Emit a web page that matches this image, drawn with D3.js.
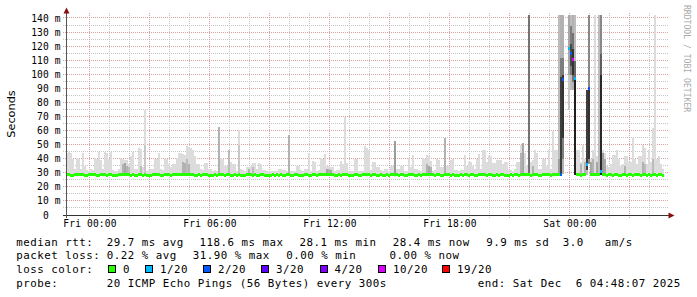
<!DOCTYPE html>
<html><head><meta charset="utf-8">
<script src="https://cdn.jsdelivr.net/npm/d3@7"></script>
<style>html,body{margin:0;padding:0;background:#fff;}svg{display:block}text{white-space:pre}</style>
</head><body><svg id="c" width="697" height="297"></svg>
<script>
// ---------------- DATA ----------------
const startTime = new Date(2025, 11, 4, 22, 48, 7);
const endTime   = new Date(2025, 11, 6, 4, 48, 7);
const stepMinutes = 6;

// median rtt per step (ms), null = no data
const medianRtt = [
28.6,28.6,28.4,28.4,28.9,28.7,28.5,28.5,28.6,28.4,
28.3,28.5,28.9,29.1,28.6,28.4,28.4,28.5,28.7,28.5,
28.4,28.6,28.6,28.3,28.2,28.4,28.5,28.8,28.6,28.9,
28.7,28.5,28.4,28.6,28.3,28.3,28.5,28.7,28.4,28.6,
28.2,28.3,28.4,28.8,28.6,28.5,28.5,28.3,28.4,28.7,
28.9,28.6,28.4,28.5,28.7,28.6,28.8,29.0,28.7,28.9,
28.8,28.6,28.5,28.7,28.4,28.3,28.6,28.4,28.5,28.8,
28.5,28.3,28.2,28.4,28.6,28.3,28.7,28.9,28.5,28.4,
28.6,28.8,28.4,28.3,28.5,28.4,28.7,28.3,28.2,28.4,
28.5,28.9,28.6,28.4,28.5,28.3,28.4,28.6,28.5,28.3,
28.2,28.4,28.3,28.5,28.4,28.6,28.4,28.5,28.3,28.4,
28.6,28.8,28.4,28.3,28.5,28.7,28.4,28.3,28.2,28.5,
28.6,28.4,28.3,28.5,28.7,28.4,28.5,28.8,28.6,28.5,
28.9,28.7,28.5,28.6,28.4,28.3,28.5,28.4,28.6,28.8,
28.5,28.4,28.3,28.2,28.5,28.6,28.4,28.3,28.5,28.7,
28.6,28.5,28.4,28.6,28.5,28.3,28.4,28.5,28.3,28.4,
28.6,28.4,28.5,28.7,28.9,28.5,28.4,28.6,28.5,28.3,
28.4,28.6,28.5,28.7,28.4,28.3,28.5,28.4,28.6,28.8,
28.7,28.9,28.6,28.5,28.4,28.6,28.5,28.3,28.4,28.9,
28.6,28.5,28.4,28.6,28.3,28.2,28.4,28.5,28.3,28.6,
28.5,28.4,28.6,28.5,28.3,28.4,28.6,28.5,28.7,28.6,
28.4,28.5,28.6,28.4,28.3,28.5,28.4,28.6,28.5,28.4,
28.3,28.4,28.5,28.4,28.6,28.5,28.4,28.8,28.9,28.6,
28.5,28.7,28.4,28.5,28.6,28.5,28.4,28.3,28.5,28.6,
28.5,28.6,28.4,28.7,28.6,28.5,28.6,28.8,96.3,null,
null,118.8,115.3,110.5,97.2,28.6,28.5,28.4,28.6,28.5,
35.8,89.8,28.6,28.5,28.7,28.5,28.6,30.7,28.7,28.5,
28.4,28.6,28.5,28.4,28.6,28.5,28.3,28.4,28.6,28.5,
28.4,28.5,28.6,28.4,28.5,28.7,28.5,28.4,28.6,28.5,
28.4,28.5,28.3,28.6,28.5,28.4,28.5,28.6,28.4,null];

// highest ping per step (ms) — outermost (lightest) smoke
const maxRtt = [
44,44.6,44,40,33,40.6,40,33,44,35,
32,31,33,32,40.6,40,45,38.9,33,45,
44,40,45,32,31,31,33,40.6,40,39,
39,36,42,45,33,33,47.8,47,34,75,
31,32,33,33,40,40,44,33,32,40.6,
40,36,34,36,36,40.6,44,44,43.6,43,
49,48.5,47.8,46,42,36,36,33,32,37,
37,33,33,31,32,31,63,40.6,40,35,
35,46.5,38,36,36,31,60.8,33,32,31,
34,34,35,37,37,33,37,36,32,32,
31,31,31,31,31,31,33,33,32,32,
31,57,31,31,31,35,35,32,31,33,
33,44,31,38.7,38,31,32,40.6,40,43.8,
35,35,34,34,31,32,32,38.8,36,70,
37,31,31,31,40.2,40,31,31,31,49,
48,46,32,38,38,34,34,32,31,33,
33,31,35,35,52.5,33,33,35,35,31,
31,40.6,34,43,33,33,32,31,40.6,40,
43,42,38.8,31,32,40,39,34,34,55,
35,35,39,40,32,32,31,32,32,43,
35,38,38,35,33,40,43.8,33,46.5,46.5,
38,41.8,41.8,37,37,39,39,39.4,36,38,
38,32,32,31,33,38,38,50,51.3,44,
35,143,38,39,46.5,44,33,33,40,40,
35,46,33,60,46,46.5,143,null,null,null,
null,null,null,null,null,46,46,38,50,40,
null,null,40,46.5,143,42,143,null,46,44,
35,34,36,43,43,46.5,40,35,36,42,
42,38,38,55,40,36,42,42,50,48,
36,46.5,38,62,143,40,42,36,33,null];

// denser smoke bands: [step, low ms, high ms, pings in band]
const denseSmoke = [
[28,28.5,36,5],[29,28.5,37,6],[30,28.5,35,5],[31,28.5,34,4],[37,28.5,35,4],[39,28.5,50,3],
[58,28.5,38,5],[59,28.5,37,5],[60,28.5,40,4],[61,28.5,36,5],[76,28.5,63,5],[81,28.5,46,4],
[86,28.5,50,3],[91,28.5,33,5],[93,28.5,34,4],[111,28.5,57,5],[130,28.5,33,6],[131,28.5,33,5],
[132,28.5,32,6],[164,28.5,52.5,7],[180,28.5,36,5],[181,28.5,35,6],[182,28.5,34,5],[189,28.5,55,5],
[227,28.5,44,5],[228,28.5,51.3,6],[231,28.5,143,11],[233,28.5,35,5],
[246,28.5,143,4],[246,28.5,40,7],
[247,28.5,143,5],[247,28.5,112,10],[247,28.5,98,16],
[248,29,143,5],[248,40,112,10],[248,55,100,17],
[251,75,143,3],[251,100,143,6],
[252,89,143,4],[252,100,135,10],[252,106,122,15],
[253,89,143,5],[253,95,130,11],[253,100,118,17],
[254,28.5,143,4],[254,28.5,110,12],[254,28.5,97,19],
[257,28.5,36,5],[259,28.5,38,5],
[260,28.5,50,4],[260,32,89,16],
[261,36,143,9],[261,40,89,17],
[262,28.5,38,6],[263,28.5,40,5],[265,28.5,38,6],
[266,28.5,143,4],
[267,28.5,143,9],[267,28.5,115,13],[267,28.5,100,18],
[268,28.5,44,7],[269,28.5,40,6],[279,28.5,35,5],[288,28.5,38,5],[289,28.5,36,4],[293,28.5,40,4]];

// lost pings per step (out of 20)
const lossEvents = [[247,2],[248,2],[251,1],[252,2],[253,10],[254,1],[260,1],[261,2],[267,1]];

const lossLegend = ["0","1/20","2/20","3/20","4/20","10/20","19/20"];
const lossThresholds = [0,1,2,3,4,10,19];
const lossColors = ["#26ff00","#00b8ff","#0059ff","#5e00ff","#7e00ff","#dd00ff","#ff0000"];

const yTickValues = [0,10,20,30,40,50,60,70,80,90,100,110,120,130,140];
const yMinorValues = [5,15,25,35,45,55,65,75,85,95,105,115,125,135];

const rttStats = ["median rtt:","29.7 ms avg","118.6 ms max","28.1 ms min","28.4 ms now","9.9 ms sd","3.0   am/s"];
const lossStats = ["packet loss:","0.22 % avg","31.90 % max","0.00 % min","0.00 % now"];
const probeInfo = ["probe:","20 ICMP Echo Pings (56 Bytes) every 300s","end: Sat Dec  6 04:48:07 2025"];
const watermark = "RRDTOOL / TOBI OETIKER";

// ---------------- DRAW ----------------
const svg = d3.select("#c");
const x = d3.scaleTime().domain([startTime, endTime]).range([66, 666]);
const y = d3.scaleLinear().domain([0, 143.2]).range([215, 14]);
const stepT = i => new Date(startTime.getTime() + i * stepMinutes * 60000);
const shade = d3.scaleLinear().domain([1, 20]).range(["#dcdcdc", "#141414"]);
const lossColor = n => { let c = lossColors[0]; lossThresholds.forEach((t, k) => { if (n >= t) c = lossColors[k]; }); return c; };
const lossMap = new Map(lossEvents);

const mono = "DejaVu Sans Mono";

// grid
const grid = svg.append("g").attr("shape-rendering", "crispEdges");
const hy = v => Math.round(y(v)) - 0.5;
const vx = t => Math.round(x(t)) - 0.5;
yMinorValues.forEach(v => grid.append("line").attr("x1", 63).attr("x2", 668).attr("y1", hy(v)).attr("y2", hy(v))
  .attr("stroke", "#c6c6c6").attr("stroke-dasharray", "1,1"));
const hours = d3.timeHour.range(new Date(2025, 11, 5, 0, 0), endTime);
hours.filter(t => t.getHours() % 3 !== 0).forEach(t => grid.append("line").attr("x1", vx(t)).attr("x2", vx(t)).attr("y1", 13).attr("y2", 218)
  .attr("stroke", "#c6c6c6").attr("stroke-dasharray", "1,1"));
yTickValues.filter(v => v > 0).forEach(v => grid.append("line").attr("x1", 63).attr("x2", 668).attr("y1", hy(v)).attr("y2", hy(v))
  .attr("stroke", "#dba1a1").attr("stroke-dasharray", "1,1"));
hours.filter(t => t.getHours() % 3 === 0).forEach(t => grid.append("line").attr("x1", vx(t)).attr("x2", vx(t)).attr("y1", 13).attr("y2", 218)
  .attr("stroke", "#dba1a1").attr("stroke-dasharray", "1,1"));

// smoke + median
svg.append("clipPath").attr("id", "plot").append("rect").attr("x", 66).attr("y", 15).attr("width", 600).attr("height", 200);
const plot = svg.append("g").attr("clip-path", "url(#plot)").attr("shape-rendering", "crispEdges");
const xs = i => Math.round(x(stepT(i)));
maxRtt.forEach((m, i) => {
  if (m == null || medianRtt[i] == null) return;
  plot.append("rect").attr("x", xs(i)).attr("width", xs(i + 1) - xs(i))
    .attr("y", y(m)).attr("height", Math.max(0, y(medianRtt[i]) - y(m))).attr("fill", shade(1));
});
denseSmoke.slice().sort((a, b) => a[3] - b[3]).forEach(([i, lo, hi, n]) => {
  plot.append("rect").attr("x", xs(i)).attr("width", xs(i + 1) - xs(i))
    .attr("y", y(hi)).attr("height", y(lo) - y(hi)).attr("fill", shade(n));
});
medianRtt.forEach((m, i) => {
  if (m == null) return;
  plot.append("rect").attr("x", xs(i)).attr("width", xs(i + 1) - xs(i))
    .attr("y", y(m) - 1.5).attr("height", 3).attr("fill", lossColor(lossMap.get(i) || 0));
});

// axes
const ax = svg.append("g").attr("shape-rendering", "crispEdges");
ax.append("line").attr("x1", 63).attr("x2", 669).attr("y1", 215.5).attr("y2", 215.5).attr("stroke", "#333");
ax.append("line").attr("x1", 66.5).attr("x2", 66.5).attr("y1", 12).attr("y2", 218).attr("stroke", "#555");
svg.append("path").attr("d", "M63.5,13.5L69.5,13.5L66.5,7.5Z").attr("fill", "#8a1010");
svg.append("path").attr("d", "M668.5,212.5L668.5,218.5L674.5,215.5Z").attr("fill", "#8a1010");

// y labels
svg.append("g").selectAll("text").data(yTickValues).join("text")
  .attr("x", 60.8).attr("y", v => y(v) + 3.5).attr("text-anchor", "end")
  .attr("font-family", mono).attr("font-size", "9.6px").attr("letter-spacing", "0.15px").attr("fill", "#000")
  .text(v => v === 0 ? "0  " : v + " m");

// x labels
svg.append("g").selectAll("text").data(d3.timeHour.every(6).range(startTime, endTime)).join("text")
  .attr("x", t => x(t)).attr("y", 227.4).attr("text-anchor", "middle")
  .attr("font-family", mono).attr("font-size", "9.6px").attr("letter-spacing", "0.15px").attr("fill", "#000")
  .text(d3.timeFormat("%a %H:%M"));

// unit label
svg.append("text").attr("transform", "translate(14.5,114) rotate(-90)").attr("text-anchor", "middle")
  .attr("font-family", "DejaVu Sans").attr("font-size", "11.3px").attr("fill", "#000").text("Seconds");

// watermark
svg.append("text").attr("transform", "translate(684,5) rotate(90)")
  .attr("font-family", mono).attr("font-size", "8.1px").attr("fill", "#aaaaaa").text(watermark);

// legend
const leg = svg.append("g").attr("font-family", mono).attr("font-size", "10.8px").attr("letter-spacing", "0.5px").attr("fill", "#000");
const put = (strs, xsPos, yy) => strs.forEach((s, k) => leg.append("text").attr("x", xsPos[k]).attr("y", yy).text(s));
put(rttStats, [16.2, 106.8, 199.5, 299.5, 392.8, 486.2, 562.8], 245.5);
put(lossStats, [16.2, 106.8, 192.8, 286.2, 389.5], 259.2);
put(["loss color:"], [16.2], 272.9);
put(probeInfo, [16.2, 106.8, 477.8], 286.6);
const boxX = [108.5, 145.5, 203.5, 261.5, 320, 378.5, 442.5];
lossLegend.forEach((s, k) => {
  leg.append("rect").attr("x", boxX[k]).attr("y", 265.5).attr("width", 7).attr("height", 7)
    .attr("fill", lossColors[k]).attr("stroke", "#000").attr("stroke-width", 1).attr("shape-rendering", "crispEdges");
  leg.append("text").attr("x", boxX[k] + 14.5).attr("y", 272.9).text(s);
});
</script></body></html>
